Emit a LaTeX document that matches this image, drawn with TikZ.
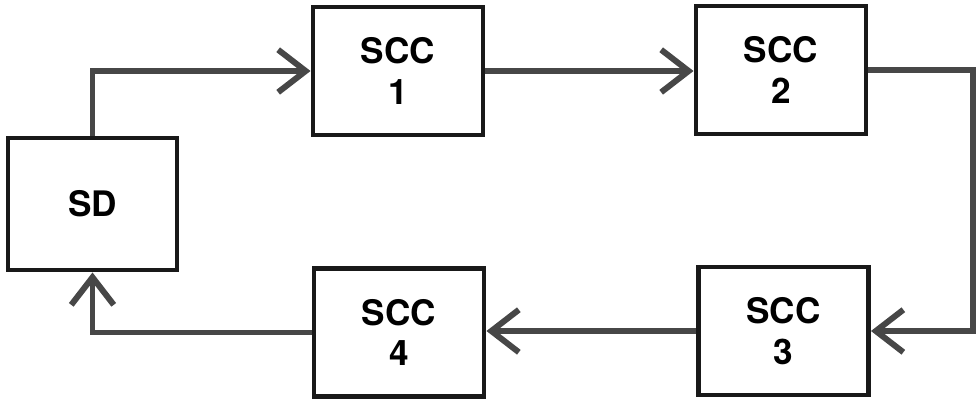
\documentclass[tikz,border=0pt]{standalone}
\usepackage{fontspec}
\setmainfont{TeX Gyre Heros}
\usetikzlibrary{arrows.meta,positioning}

\begin{document}
\begin{tikzpicture}[>={Straight Barb[length=0.55cm,width=0.85cm]},font=\fontsize{20}{23}\selectfont\bfseries]
\tikzstyle{blk}=[draw=black!90,line width=2.8pt,minimum width=3.4cm,minimum height=2.56cm,align=center]
\tikzstyle{flow}=[draw=black!72,line width=3.4pt,->]
\useasboundingbox (0,0) rectangle (19.56,8.04);
\node[blk,minimum width=3.38cm,minimum height=2.64cm] (sd) at (1.85,3.96) {SD};
\node[blk] (c1) at (7.96,6.62) {SCC\\ 1}; \node[blk] (c2) at (15.62,6.64) {SCC\\ 2};
\node[blk] (c3) at (15.67,1.42) {SCC\\ 3}; \node[blk] (c4) at (7.98,1.39) {SCC\\ 4};
% loop: SD -> 1 -> 2 -> 3 -> 4 -> SD
\draw[flow] (sd.north) |- (c1.west);
\draw[flow] (c1.east) -- (c1.east -| c2.west);
\draw[flow] (c2.east) -- ++(2.1,0) |- (c3.east);
\draw[flow] (c3.west) -- (c3.west -| c4.east);
\draw[flow] (c4.west) -| (sd.south);
\end{tikzpicture}
\end{document}
